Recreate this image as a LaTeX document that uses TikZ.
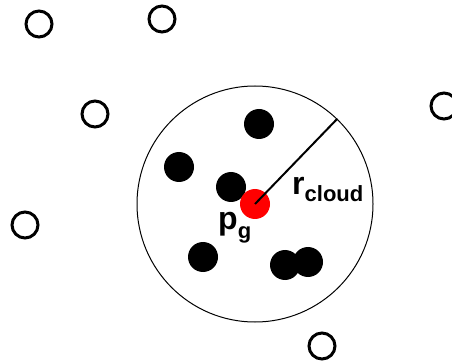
\documentclass[tikz,border=0pt]{standalone}
\usepackage{fontspec}
\setmainfont{Liberation Sans}
\begin{document}
\begin{tikzpicture}[x=1pt,y=-1pt,
  particle/.style={circle,draw=black,line width=3pt,minimum size=26pt,inner sep=0pt,fill=white},
  member/.style={circle,fill=black,minimum size=30pt,inner sep=0pt},
  gbest/.style={circle,fill=red,minimum size=30pt,inner sep=0pt},
  cloudring/.style={circle,draw=black,line width=1pt,minimum size=236pt,inner sep=0pt},
  lbl/.style={inner sep=0pt,anchor=base west}]
\useasboundingbox[fill=white] (0,0) rectangle (452,363);
% cloud
\node[cloudring] (cloud) at (255,204) {};
% outside particles
\node[particle] (o1) at (39,24) {};
\node[particle] (o2) at (162,19) {};
\node[particle] (o3) at (95,114) {};
\node[particle] (o4) at (444,106) {};
\node[particle] (o5) at (25,225) {};
\node[particle] (o6) at (322,346) {};
% members
\node[member] (m1) at (259,124) {};
\node[member] (m2) at (179,167) {};
\node[member] (m3) at (231,187) {};
\node[member] (m4) at (203,257) {};
\node[member] (m5) at (285,265) {};
\node[member] (m6) at (308,262) {};
% global best
\node[gbest] (g) at (255,204) {};
\draw[line width=2pt] (g.center) -- (cloud.46);
% labels
\node[lbl] (rlab) at (292,195) {\fontsize{32}{32}\selectfont\bfseries r\raisebox{-7pt}{\fontsize{22}{22}\selectfont cloud}};
\node[lbl] (plab) at (218,230) {\fontsize{32}{32}\selectfont\bfseries p\raisebox{-8.5pt}{\fontsize{22}{22}\selectfont g}};
\end{tikzpicture}
\end{document}
